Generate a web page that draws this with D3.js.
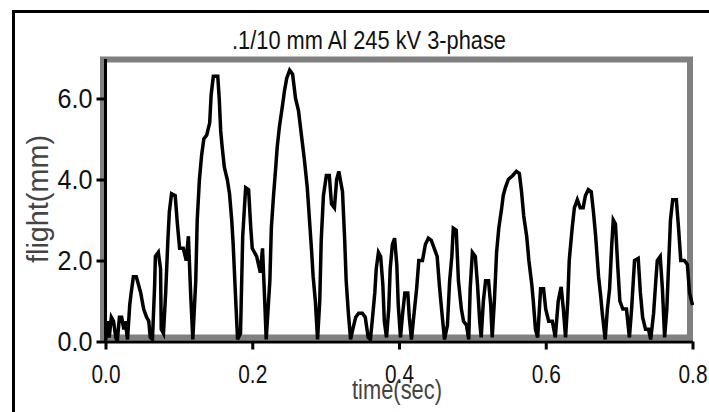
<!DOCTYPE html>
<html>
<head>
<meta charset="utf-8">
<script src="https://cdn.jsdelivr.net/npm/d3@7"></script>
<style>
  body { margin: 0; background: #fff; }
  svg { display: block; }
</style>
</head>
<body>
<div id="chart"></div>
<script>
/* CONSTANTS AND GLOBALS */

var chartTitle = ".1/10 mm Al 245 kV 3-phase";
var xLabel = "time(sec)";
var yLabel = "flight(mm)";

var xTicks = [0.0, 0.2, 0.4, 0.6, 0.8];
var yTicks = [0.0, 2.0, 4.0, 6.0];

// time (sec)
var time = [
  0.000, 0.003, 0.005, 0.008, 0.011, 0.014, 0.016, 0.019, 0.022, 0.025,
  0.027, 0.030, 0.033, 0.035, 0.038, 0.042, 0.045, 0.048, 0.052, 0.056,
  0.059, 0.061, 0.064, 0.067, 0.068, 0.072, 0.075, 0.076, 0.079, 0.082,
  0.085, 0.087, 0.090, 0.095, 0.098, 0.101, 0.106, 0.110, 0.113, 0.116,
  0.119, 0.123, 0.125, 0.128, 0.131, 0.134, 0.138, 0.142, 0.144, 0.147,
  0.153, 0.155, 0.157, 0.159, 0.162, 0.166, 0.169, 0.172, 0.174, 0.177,
  0.180, 0.184, 0.187, 0.191, 0.195, 0.198, 0.200, 0.206, 0.211, 0.214,
  0.217, 0.219, 0.224, 0.226, 0.229, 0.232, 0.234, 0.237, 0.241, 0.244,
  0.247, 0.251, 0.255, 0.259, 0.263, 0.267, 0.271, 0.275, 0.278, 0.281,
  0.283, 0.286, 0.289, 0.292, 0.294, 0.297, 0.301, 0.305, 0.308, 0.312,
  0.315, 0.318, 0.320, 0.323, 0.326, 0.328, 0.331, 0.334, 0.337, 0.341,
  0.345, 0.350, 0.354, 0.358, 0.361, 0.364, 0.367, 0.369, 0.372, 0.375,
  0.378, 0.380, 0.383, 0.386, 0.388, 0.391, 0.394, 0.397, 0.399, 0.402,
  0.405, 0.408, 0.412, 0.414, 0.417, 0.420, 0.424, 0.427, 0.432, 0.436,
  0.440, 0.444, 0.448, 0.452, 0.455, 0.458, 0.462, 0.466, 0.469, 0.472,
  0.474, 0.478, 0.481, 0.485, 0.488, 0.492, 0.495, 0.497, 0.500, 0.504,
  0.507, 0.510, 0.512, 0.515, 0.518, 0.522, 0.525, 0.527, 0.530, 0.533,
  0.536, 0.540, 0.542, 0.545, 0.549, 0.555, 0.560, 0.564, 0.567, 0.570,
  0.574, 0.577, 0.581, 0.583, 0.586, 0.589, 0.593, 0.597, 0.600, 0.604,
  0.609, 0.613, 0.617, 0.621, 0.624, 0.627, 0.630, 0.632, 0.636, 0.639,
  0.643, 0.647, 0.651, 0.654, 0.658, 0.662, 0.665, 0.668, 0.672, 0.675,
  0.677, 0.681, 0.684, 0.687, 0.690, 0.692, 0.695, 0.698, 0.701, 0.705,
  0.710, 0.714, 0.717, 0.721, 0.726, 0.729, 0.732, 0.736, 0.740, 0.743,
  0.747, 0.750, 0.752, 0.756, 0.759, 0.762, 0.765, 0.767, 0.770, 0.773,
  0.778, 0.781, 0.784, 0.789, 0.793, 0.796, 0.800
];

// flight (mm) at each time above
var flight = [
  0.0, 0.5, 0.1, 0.6, 0.5, 0.1, 0.0, 0.6, 0.6, 0.3,
  0.5, 0.05, 0.9, 1.2, 1.6, 1.6, 1.4, 1.2, 0.8, 0.6,
  0.5, 0.1, 0.05, 1.4, 2.1, 2.2, 1.8, 0.3, 0.2, 1.2,
  2.5, 3.2, 3.65, 3.6, 2.9, 2.3, 2.3, 2.0, 2.6, 1.2,
  0.05, 1.5, 3.0, 4.0, 4.6, 5.0, 5.1, 5.4, 6.1, 6.55,
  6.55, 6.0, 5.2, 4.8, 4.3, 4.0, 3.65, 3.0, 2.4, 1.2,
  0.05, 0.2, 2.6, 3.8, 3.75, 2.8, 2.3, 2.1, 1.7, 2.3,
  1.0, 0.05, 1.5, 2.8, 3.6, 4.3, 4.8, 5.3, 5.8, 6.2,
  6.5, 6.7, 6.6, 6.0, 5.7, 5.1, 4.5, 3.8, 3.0, 2.2,
  1.6, 1.0, 0.05, 1.0, 2.5, 3.6, 4.1, 4.1, 3.4, 3.3,
  4.0, 4.2, 4.0, 3.7, 2.5, 1.5, 0.7, 0.05, 0.3, 0.6,
  0.7, 0.7, 0.6, 0.1, 0.05, 0.6, 1.2, 1.8, 2.2, 2.1,
  1.4, 0.5, 0.1, 0.8, 1.8, 2.4, 2.55, 1.9, 0.9, 0.1,
  0.7, 1.2, 1.2, 0.6, 0.05, 0.6, 1.3, 2.0, 2.0, 2.4,
  2.55, 2.5, 2.3, 2.1, 1.4, 0.8, 0.05, 0.4, 1.5, 2.1,
  2.8, 2.75, 1.5, 0.8, 0.5, 0.4, 0.05, 1.3, 2.2, 2.1,
  1.4, 0.5, 0.1, 1.0, 1.5, 1.5, 0.9, 0.1, 1.0, 2.2,
  2.8, 3.3, 3.6, 3.8, 4.0, 4.1, 4.2, 4.15, 3.7, 3.1,
  2.6, 2.0, 1.4, 1.0, 0.3, 0.1, 1.3, 1.3, 0.8, 0.5,
  0.5, 0.1, 1.0, 1.35, 0.8, 0.1, 1.0, 2.0, 2.8, 3.3,
  3.5, 3.3, 3.3, 3.6, 3.75, 3.7, 3.2, 2.6, 1.6, 1.1,
  0.7, 0.05, 0.8, 1.3, 2.4, 3.0, 2.9, 1.9, 1.0, 0.8,
  0.8, 0.1, 0.8, 2.0, 2.05, 1.2, 0.6, 0.3, 0.3, 0.05,
  0.7, 1.5, 2.0, 2.1, 1.3, 0.1, 0.8, 1.7, 3.0, 3.5,
  3.5, 2.8, 2.0, 2.0, 1.9, 1.2, 0.9
];

var W = 709,
    H = 412;

// plot area in page pixels
var plot = {left: 105.5, right: 692.5, top: 58, bottom: 341.5};

var narrow = '"Liberation Sans Narrow", "Arial Narrow", "Liberation Sans", Arial, sans-serif';

var data = time.map(function(t, i) { return {t: t, v: flight[i]}; });

/* SCALES */
var x = d3.scaleLinear()
  .domain([0, 0.8])
  .range([plot.left, plot.right]);

var y = d3.scaleLinear()
  .domain([0, 7])
  .range([plot.bottom, plot.top]);

/* HTML ELEMENTS */
var svg = d3.select("#chart").append("svg")
  .attr("width", W)
  .attr("height", H);

svg.append("rect")
  .attr("width", W)
  .attr("height", H)
  .attr("fill", "#fff");

// outer black frame (runs off the right and bottom of the picture)
svg.append("rect")
  .attr("x", 13.5)
  .attr("y", 11.5)
  .attr("width", 900)
  .attr("height", 600)
  .attr("fill", "none")
  .attr("stroke", "#000")
  .attr("stroke-width", 3);

// grey plot frame
svg.append("rect")
  .attr("x", 103)
  .attr("y", 59.5)
  .attr("width", 587)
  .attr("height", 278)
  .attr("fill", "none")
  .attr("stroke", "#808080")
  .attr("stroke-width", 6);

// the trace
var line = d3.line()
  .x(function(d) { return x(d.t); })
  .y(function(d) { return y(d.v); });

svg.append("path")
  .datum(data)
  .attr("d", line)
  .attr("fill", "none")
  .attr("stroke", "#000")
  .attr("stroke-width", 3.5);

// x Axis
var gx = svg.append("g")
  .attr("transform", "translate(0," + plot.bottom + ")")
  .call(d3.axisBottom(x)
    .tickValues(xTicks)
    .tickFormat(d3.format(".1f"))
    .tickSizeInner(8)
    .tickSizeOuter(0)
    .tickPadding(16));

gx.selectAll("path, line")
  .attr("stroke", "#000")
  .attr("stroke-width", 3);

gx.selectAll("text")
  .attr("fill", "#111")
  .style("font-family", narrow)
  .style("font-size", "25px")
  .attr("textLength", 29)
  .attr("lengthAdjust", "spacingAndGlyphs");

// y Axis
var gy = svg.append("g")
  .attr("transform", "translate(" + plot.left + ",0)")
  .call(d3.axisLeft(y)
    .tickValues(yTicks)
    .tickFormat(d3.format(".1f"))
    .tickSizeInner(9)
    .tickSizeOuter(0)
    .tickPadding(4));

gy.select(".domain")
  .attr("d", "M0," + (plot.bottom + 1.5) + "V" + (plot.top + 1));

gy.selectAll("path, line")
  .attr("stroke", "#000")
  .attr("stroke-width", 3);

gy.selectAll("text")
  .attr("fill", "#111")
  .style("font-family", narrow)
  .style("font-size", "28px")
  .attr("textLength", 35)
  .attr("lengthAdjust", "spacingAndGlyphs");

// title
svg.append("text")
  .attr("x", 232)
  .attr("y", 49)
  .attr("fill", "#111")
  .style("font-family", narrow)
  .style("font-size", "26px")
  .attr("textLength", 274)
  .attr("lengthAdjust", "spacingAndGlyphs")
  .text(chartTitle);

// text label for the y axis
svg.append("text")
  .attr("transform", "translate(48,199) rotate(-90)")
  .attr("fill", "#444")
  .style("text-anchor", "middle")
  .style("font-family", narrow)
  .style("font-size", "29px")
  .attr("textLength", 128)
  .attr("lengthAdjust", "spacingAndGlyphs")
  .text(yLabel);

// text label for the x axis
svg.append("text")
  .attr("x", 397)
  .attr("y", 399)
  .attr("fill", "#444")
  .style("text-anchor", "middle")
  .style("font-family", narrow)
  .style("font-size", "27px")
  .attr("textLength", 90)
  .attr("lengthAdjust", "spacingAndGlyphs")
  .text(xLabel);
</script>
</body>
</html>
